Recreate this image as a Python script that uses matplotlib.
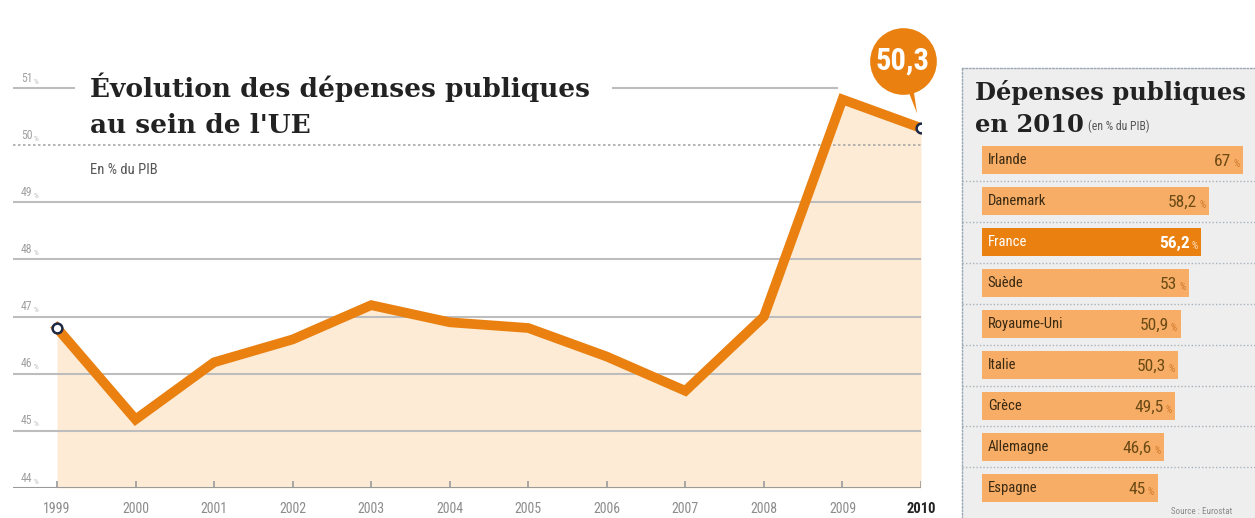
import matplotlib
matplotlib.use("Agg")
import matplotlib.pyplot as plt
from matplotlib import font_manager
from matplotlib.transforms import ScaledTranslation

# Dépenses publiques de l'UE, en % du PIB
years = [1999, 2000, 2001, 2002, 2003, 2004, 2005, 2006, 2007, 2008, 2009, 2010]
depenses_ue = [46.8, 45.2, 46.2, 46.6, 47.2, 46.9, 46.8, 46.3, 45.7, 47.0, 50.8, 50.3]
y_ticks = [44, 45, 46, 47, 48, 49, 50, 51]

# Classement 2010 par pays
pays = ["Irlande", "Danemark", "France", "Suède", "Royaume-Uni",
        "Italie", "Grèce", "Allemagne", "Espagne"]
depenses_2010 = [67, 58.2, 56.2, 53, 50.9, 50.3, 49.5, 46.6, 45]
pays_en_avant = "France"

ORANGE = "#e9800f"
ORANGE_CLAIR = "#f7ad66"
FOND_COURBE = "#fdebd6"
GRIS_GRILLE = "#bdbdbd"


def pick_font(*names):
    for name in names:
        try:
            font_manager.findfont(font_manager.FontProperties(family=name),
                                  fallback_to_default=False)
            return name
        except ValueError:
            continue
    return "DejaVu Sans"


NARROW = pick_font("Roboto Condensed", "Liberation Sans Narrow", "Open Sans", "Roboto")
SERIF = "DejaVu Serif"

W, H = 1255, 518
fig = plt.figure(figsize=(W / 100, H / 100), dpi=100)
fig.patch.set_facecolor("white")


def pourcent(axe, artiste, couleur, taille, dx=1.0):
    # petit signe % collé derrière un nombre
    axe.annotate("%", xy=(1, 0), xycoords=artiste, xytext=(dx, 0),
                 textcoords="offset points", ha="left", va="bottom",
                 family=NARROW, fontsize=taille, color=couleur,
                 zorder=artiste.get_zorder())


# --- courbe principale -------------------------------------------------------
px_year = 78.55
px_unit = 57.14
x_left = 1999 - (57 - 13) / px_year
ax = fig.add_axes([13 / W, 30 / H, 908 / W, 8.5 * px_unit / H])
ax.set_xlim(x_left, 2010)
ax.set_ylim(44, 52.5)
ax.axis("off")

ax.fill_between(years, depenses_ue, 44, color=FOND_COURBE, lw=0, zorder=1)

for v in y_ticks:
    if v == 44:
        ax.hlines(v, x_left, 2010, color="#9a9a9a", lw=1.5, zorder=2)
    elif v == 50:
        ax.hlines(v, x_left, 2010, color="#a8a8a8", lw=1.2, ls=(0, (1.5, 1.5)), zorder=2)
    elif v == 51:
        ax.hlines(v, x_left, 1999.23, color=GRIS_GRILLE, lw=1.5, zorder=2)
        ax.hlines(v, 2006.07, 2008.94, color=GRIS_GRILLE, lw=1.5, zorder=2)
    else:
        ax.hlines(v, x_left, 2010, color=GRIS_GRILLE, lw=1.5, zorder=2)
    t = ax.text(x_left + 0.1, v + 0.06, f"{v}", fontsize=8.5, color="#a0a0a0",
                family=NARROW, ha="left", va="bottom")
    pourcent(ax, t, "#b5b5b5", 5.5)

for yr in years:
    ax.vlines(yr, 44, 44.13, color="#9a9a9a", lw=1.2, zorder=2)
    ax.text(yr, 43.63, str(yr), ha="center", va="center", family=NARROW,
            fontsize=10.5 if yr == 2010 else 10,
            color="#222222" if yr == 2010 else "#8c8c8c",
            fontweight="bold" if yr == 2010 else "normal", clip_on=False)

ax.plot(years, depenses_ue, color=ORANGE, lw=7, solid_joinstyle="miter", zorder=4)
ax.plot([years[0], years[-1]], [depenses_ue[0], depenses_ue[-1]], ls="none",
        marker="o", ms=7, mfc="white", mec="#1e2a45", mew=1.8, zorder=5)

# bulle de la dernière valeur
bulle = ax.transData + ScaledTranslation(-13 / 72, 48.5 / 72, fig.dpi_scale_trans)
ax.annotate("", xy=(years[-1], depenses_ue[-1]), xytext=(-13, 48.5),
            textcoords="offset points",
            arrowprops=dict(arrowstyle="wedge,tail_width=0.9,shrink_factor=0.5",
                            fc=ORANGE, ec="none", shrinkA=0, shrinkB=11),
            zorder=6, annotation_clip=False)
ax.plot([years[-1]], [depenses_ue[-1]], marker="o", ms=48, color=ORANGE,
        mec="none", transform=bulle, clip_on=False, zorder=7)
ax.text(years[-1], depenses_ue[-1], f"{depenses_ue[-1]:.1f}".replace(".", ","),
        transform=bulle, ha="center", va="center", color="white",
        fontsize=22, fontweight="bold", family=NARROW, zorder=8)

ax.text(1999.42, 51.02, "Évolution des dépenses publiques",
        family=SERIF, fontweight="bold", fontsize=19, color="#222222",
        ha="left", va="center", zorder=3)
ax.text(1999.42, 50.35, "au sein de l'UE",
        family=SERIF, fontweight="bold", fontsize=19, color="#222222",
        ha="left", va="center", zorder=3)
ax.text(1999.42, 49.57, "En % du PIB", family=NARROW, fontsize=10.5,
        color="#555555", ha="left", va="center")

# --- encadré de droite -------------------------------------------------------
bx_unit = 3.9
row_px = 41
bx_left = -(982 - 962) / bx_unit
ax2 = fig.add_axes([962 / W, 0, (W - 962) / W, (518 - 68) / H])
ax2.set_xlim(bx_left, (W - 982) / bx_unit)
ax2.set_ylim((518 - 160) / row_px, -(160 - 68) / row_px)
ax2.set_facecolor("#eeeeee")
for side in ("right", "bottom"):
    ax2.spines[side].set_visible(False)
for side in ("left", "top"):
    ax2.spines[side].set_color("#9aa7b4")
    ax2.spines[side].set_linestyle((0, (1, 1.5)))
    ax2.spines[side].set_linewidth(1.0)
ax2.set_xticks([])
ax2.set_yticks([])

rows = list(range(len(pays)))
couleurs = [ORANGE if p == pays_en_avant else ORANGE_CLAIR for p in pays]
ax2.barh(rows, depenses_2010, height=0.66, color=couleurs, lw=0, zorder=2)

for i, (p, v) in enumerate(zip(pays, depenses_2010)):
    en_avant = p == pays_en_avant
    ax2.text(1.5, i, p, family=NARROW, fontsize=10.5,
             color="white" if en_avant else "#3a2a12",
             ha="left", va="center", zorder=3)
    val = f"{v:g}".replace(".", ",")
    t = ax2.text(v - 3.0, i + 0.03, val, family=NARROW, fontsize=12.5,
                 fontweight="bold" if en_avant else "normal",
                 color="white" if en_avant else "#6b4a14",
                 ha="right", va="center", zorder=3)
    pourcent(ax2, t, "#fde3c6" if en_avant else "#d0782a", 7, dx=1.5)
    if i < len(pays) - 1:
        ax2.axhline(i + 0.5, color="#a9b2bb", lw=1.0, ls=(0, (1, 1.5)), zorder=1)

ax2.text(bx_left + 3.3, -1.65, "Dépenses publiques", family=SERIF,
         fontweight="bold", fontsize=17.5, color="#222222", ha="left", va="center")
t = ax2.text(bx_left + 3.3, -0.86, "en 2010", family=SERIF,
             fontweight="bold", fontsize=17.5, color="#222222", ha="left", va="center")
ax2.annotate("(en % du PIB)", xy=(1, 0.15), xycoords=t, xytext=(3, 0),
             textcoords="offset points", family=NARROW, fontsize=8.5,
             color="#555555", ha="left", va="bottom")
ax2.text(bx_left + 53.5, 8.58, "Source : Eurostat", family=NARROW,
         fontsize=6.5, color="#8a8a8a", ha="left", va="center", clip_on=True)

fig.savefig("out.png", dpi=100)
